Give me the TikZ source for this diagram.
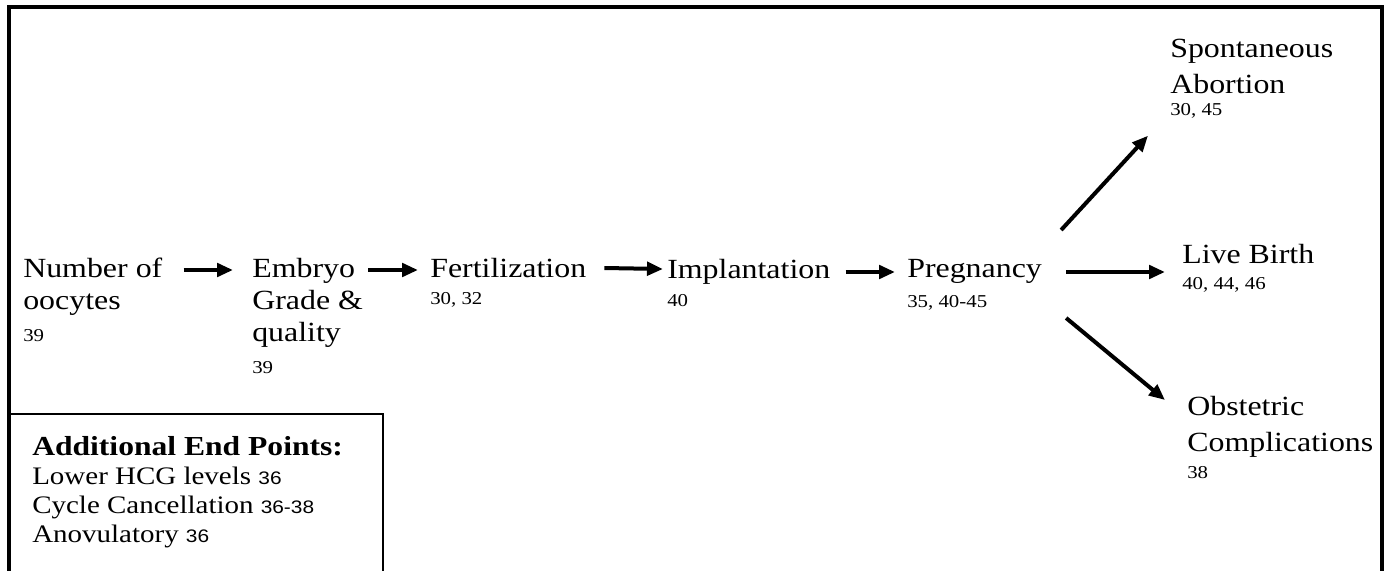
\documentclass[tikz,border=0pt]{standalone}
\usepackage{fontspec}
\setmainfont{Liberation Serif}[FakeStretch=1.15]
\newfontfamily\refsans{Liberation Sans}[FakeStretch=1.15]
\usetikzlibrary{arrows.meta}

\newcommand{\refnum}[1]{{\fontsize{13.6}{16}\selectfont #1}}
\newcommand{\boxnum}[1]{{\refsans\fontsize{13.6}{16}\selectfont #1}}

\tikzset{
  stage/.style={anchor=north west, align=left, inner sep=0pt, font=\fontsize{20.8}{24}\selectfont},
  flow/.style={-{Triangle[length=12pt,width=10pt]}, line width=3pt},
}

\begin{document}
\begin{tikzpicture}[x=0.75pt,y=-0.75pt]
    \useasboundingbox (0,0) rectangle (1385,571);
    \draw[line width=3pt] (9,571) -- (9,7) -- (1382,7) -- (1382,571);
    \draw[line width=1.5pt] (9,414) -- (383,414) -- (383,571);

    \node[stage] (num) at (23,258) {Number of\\oocytes\\\refnum{39}};
    \node[stage] (emb) at (252,258) {Embryo\\Grade \&\\quality\\\refnum{39}};
    \node[stage] (fert) at (430,258) {Fertilization\\[-3.75pt]\refnum{30, 32}};
    \node[stage] (impl) at (667,259) {Implantation\\[-3pt]\refnum{40}};
    \node[stage] (preg) at (907,259) {Pregnancy\\[-1.5pt]\refnum{35, 40-45}};
    \node[stage] (spont) at (1170,39) {Spontaneous\\[3pt]Abortion\\[-7.5pt]\refnum{30, 45}};
    \node[stage] (live) at (1182,244) {Live Birth\\[-4.5pt]\refnum{40, 44, 46}};
    \node[stage] (obst) at (1187,396) {Obstetric\\[3pt]Complications\\[-3.75pt]\refnum{38}};
    \node[stage, font=\fontsize{18.9}{21.75}\selectfont] (endpts) at (32,436)
        {{\bfseries\fontsize{20.6}{21.75}\selectfont Additional End Points:}\\
         Lower HCG levels \boxnum{36}\\
         Cycle Cancellation \boxnum{36-38}\\
         Anovulatory \boxnum{36}};

    \draw[flow] ([shift={(21,12)}]num.north east) -- ([shift={(-19,12)}]emb.north west);
    \draw[flow] ([shift={(5,12)}]emb.north east) -- ([shift={(-12,12)}]fert.north west);
    \draw[flow] ([shift={(18,10)}]fert.north east) -- ([shift={(-4,10)}]impl.north west);
    \draw[flow] ([shift={(15,13)}]impl.north east) -- ([shift={(-12,13)}]preg.north west);

    \draw[flow] ([shift={(19,-29)}]preg.north east) -- ([shift={(-22,17)}]spont.south west);
    \draw[flow] ([shift={(24,13)}]preg.north east) -- ([shift={(-17,13)}]preg.north east -| live.west);
    \draw[flow] ([shift={(24,59)}]preg.north east) -- ([shift={(-22,4)}]obst.north west);
\end{tikzpicture}
\end{document}
